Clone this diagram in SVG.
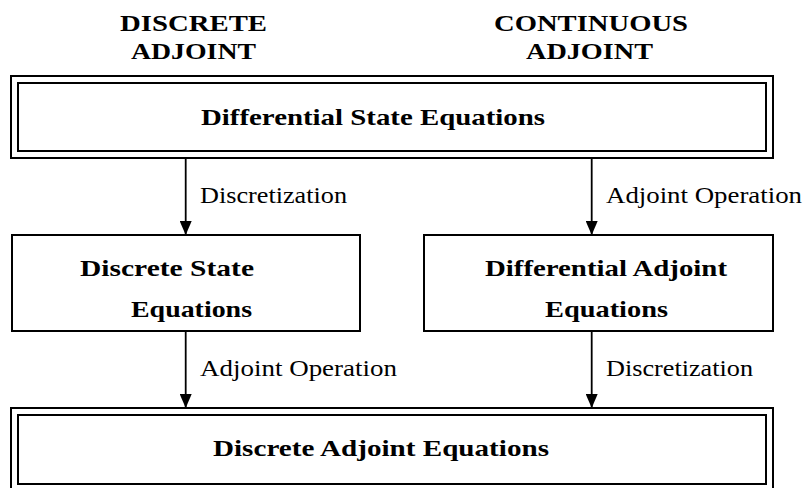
<svg xmlns="http://www.w3.org/2000/svg" width="803" height="488" viewBox="0 0 803 488">
<style>
.box{fill:none;stroke:#000;stroke-width:2}
.hd{font-family:"Liberation Serif","Times New Roman",serif;font-weight:bold;font-size:24px;fill:#000}
.bt{font-family:"Liberation Serif","Times New Roman",serif;font-weight:bold;font-size:24px;fill:#000}
.lb{font-family:"Liberation Serif","Times New Roman",serif;font-size:23px;fill:#000}
.ar{stroke:#000;stroke-width:1.8;fill:none}
</style>
<defs>
<marker id="ah" markerUnits="userSpaceOnUse" markerWidth="14" markerHeight="12" viewBox="0 0 14 12" refX="14" refY="6" orient="auto">
<path d="M0,0 L14,6 L0,12 Z" fill="#000"/>
</marker>
</defs>
<rect width="803" height="488" fill="#fff"/>
<g id="headers">
<text class="hd" x="120" y="31" textLength="147" lengthAdjust="spacingAndGlyphs">DISCRETE</text>
<text class="hd" x="131" y="59" textLength="125" lengthAdjust="spacingAndGlyphs">ADJOINT</text>
<text class="hd" x="494" y="31" textLength="194" lengthAdjust="spacingAndGlyphs">CONTINUOUS</text>
<text class="hd" x="526" y="59" textLength="127" lengthAdjust="spacingAndGlyphs">ADJOINT</text>
</g>
<g id="n-diff-state">
<rect class="box" x="11" y="76" width="762" height="82"/>
<rect class="box" x="18" y="83" width="748" height="68"/>
<text class="bt" x="201" y="125" textLength="344" lengthAdjust="spacingAndGlyphs">Differential State Equations</text>
</g>
<g id="n-disc-state">
<rect class="box" x="12" y="235" width="348" height="96"/>
<text class="bt" x="80" y="276" textLength="174" lengthAdjust="spacingAndGlyphs">Discrete State</text>
<text class="bt" x="131" y="317" textLength="121" lengthAdjust="spacingAndGlyphs">Equations</text>
</g>
<g id="n-diff-adj">
<rect class="box" x="424" y="235" width="349" height="96"/>
<text class="bt" x="485" y="276" textLength="242" lengthAdjust="spacingAndGlyphs">Differential Adjoint</text>
<text class="bt" x="545" y="317" textLength="123" lengthAdjust="spacingAndGlyphs">Equations</text>
</g>
<g id="n-disc-adj">
<rect class="box" x="11" y="408" width="762" height="90"/>
<rect class="box" x="18" y="415" width="748" height="69"/>
<text class="bt" x="213" y="456" textLength="336" lengthAdjust="spacingAndGlyphs">Discrete Adjoint Equations</text>
</g>
<g id="connectors">
<line class="ar" x1="185.7" y1="158" x2="185.7" y2="235" marker-end="url(#ah)"/>
<line class="ar" x1="591.7" y1="158" x2="591.7" y2="235" marker-end="url(#ah)"/>
<line class="ar" x1="185.7" y1="331" x2="185.7" y2="408" marker-end="url(#ah)"/>
<line class="ar" x1="591.7" y1="331" x2="591.7" y2="408" marker-end="url(#ah)"/>
<text class="lb" x="200" y="203" textLength="147" lengthAdjust="spacingAndGlyphs">Discretization</text>
<text class="lb" x="606" y="203" textLength="196" lengthAdjust="spacingAndGlyphs">Adjoint Operation</text>
<text class="lb" x="200" y="376" textLength="197" lengthAdjust="spacingAndGlyphs">Adjoint Operation</text>
<text class="lb" x="606" y="376" textLength="147" lengthAdjust="spacingAndGlyphs">Discretization</text>
</g>
</svg>
